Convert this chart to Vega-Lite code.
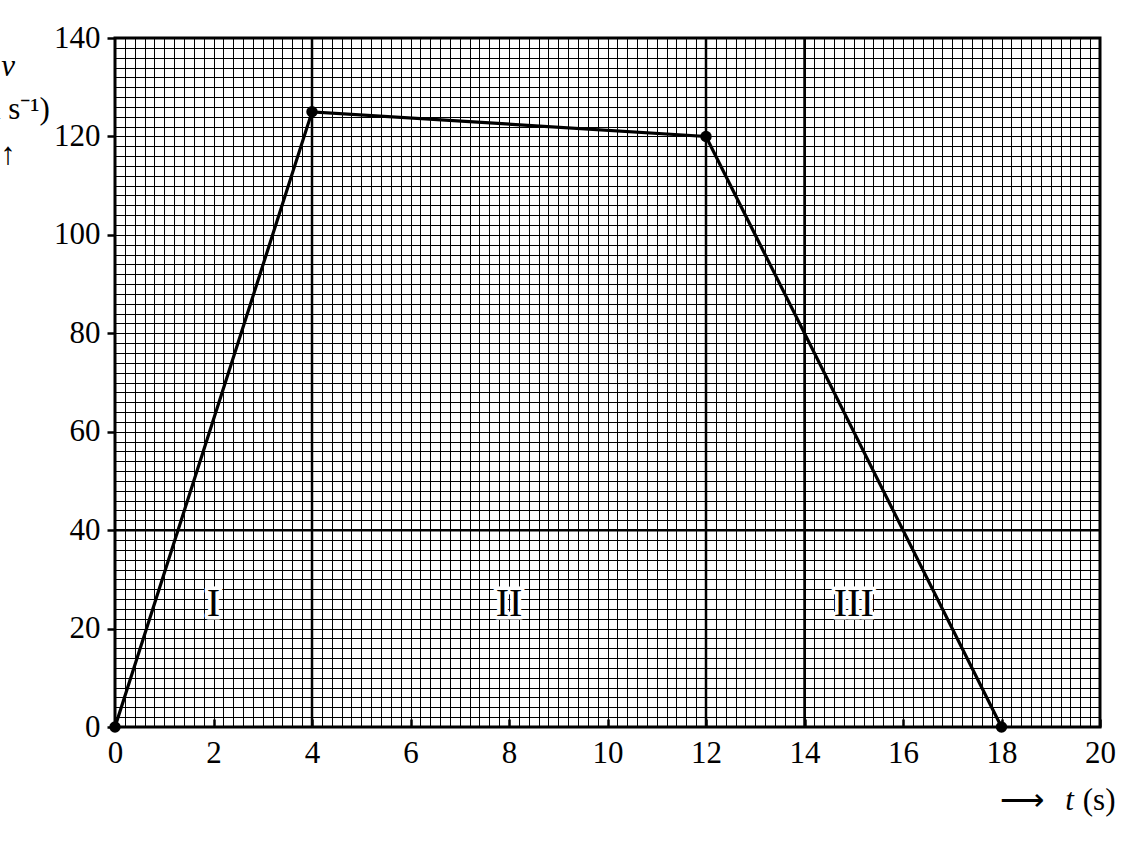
{
  "$schema": "https://vega.github.io/schema/vega-lite/v6.json",
  "width": 985,
  "height": 689,
  "autosize": {"type": "none"},
  "padding": {"left": 115, "top": 38, "right": 41, "bottom": 114},
  "background": "white",
  "config": {
    "view": {"stroke": "black", "strokeWidth": 3},
    "font": "Times New Roman, Liberation Serif, serif"
  },
  "title": {
    "text": "v",
    "subtitle": ["(m s⁻¹)", "↑"],
    "anchor": "start",
    "frame": "group",
    "align": "center",
    "dx": -107,
    "dy": 149,
    "offset": 0,
    "font": "Times New Roman, Liberation Serif, serif",
    "fontStyle": "italic",
    "fontWeight": "normal",
    "fontSize": 31,
    "color": "black",
    "subtitleFont": "Times New Roman, Liberation Serif, serif",
    "subtitleFontSize": 31,
    "subtitleFontStyle": "normal",
    "subtitleColor": "black",
    "subtitlePadding": 12,
    "subtitleLineHeight": 45
  },
  "datasets": {
    "curve": [
      {"t": 0, "v": 0},
      {"t": 4, "v": 125},
      {"t": 12, "v": 120},
      {"t": 18, "v": 0}
    ],
    "heavyX": [{"t": 4}, {"t": 12}, {"t": 14}],
    "heavyY": [{"v": 40}],
    "regions": [
      {"t": 2, "v": 25, "label": "I"},
      {"t": 8, "v": 25, "label": "II"},
      {"t": 15, "v": 25, "label": "III"}
    ]
  },
  "layer": [
    {
      "data": {"name": "heavyX"},
      "mark": {"type": "rule", "color": "black", "strokeWidth": 2.5},
      "encoding": {
        "x": {"field": "t", "type": "quantitative", "scale": {"domain": [0, 20], "nice": false}}
      }
    },
    {
      "data": {"name": "heavyY"},
      "mark": {"type": "rule", "color": "black", "strokeWidth": 2.5},
      "encoding": {
        "y": {"field": "v", "type": "quantitative", "scale": {"domain": [0, 140], "nice": false}}
      }
    },
    {
      "data": {"name": "curve"},
      "mark": {"type": "line", "color": "black", "strokeWidth": 3.2},
      "encoding": {
        "x": {
          "field": "t",
          "type": "quantitative",
          "scale": {"domain": [0, 20], "nice": false},
          "axis": {
            "tickCount": 100,
            "grid": true,
            "gridColor": "black",
            "gridWidth": 1,
            "gridOpacity": 1,
            "domain": false,
            "labelExpr": "abs(datum.value/2 - round(datum.value/2)) < 0.001 ? format(datum.value, '.0f') : ''",
            "tickOpacity": {"condition": {"test": "abs(datum.value/2 - round(datum.value/2)) < 0.001", "value": 1}, "value": 0},
            "tickSize": -8,
            "tickWidth": 2.5,
            "tickColor": "black",
            "labelPadding": 19,
            "labelFont": "Times New Roman, Liberation Serif, serif",
            "labelFontSize": 31,
            "labelColor": "black",
            "labelOverlap": false,
            "labelBound": false,
            "labelFlush": false,
            "title": "t",
            "titleX": 954,
            "titleY": 73,
            "titleAlign": "center",
            "titleBaseline": "middle",
            "titleFont": "Times New Roman, Liberation Serif, serif",
            "titleFontStyle": "italic",
            "titleFontWeight": "normal",
            "titleFontSize": 31,
            "titleColor": "black"
          }
        },
        "y": {
          "field": "v",
          "type": "quantitative",
          "scale": {"domain": [0, 140], "nice": false},
          "axis": {
            "tickCount": 70,
            "grid": true,
            "gridColor": "black",
            "gridWidth": 1,
            "gridOpacity": 1,
            "domain": false,
            "labelExpr": "abs(datum.value/20 - round(datum.value/20)) < 0.001 ? format(datum.value, '.0f') : ''",
            "tickOpacity": {"condition": {"test": "abs(datum.value/20 - round(datum.value/20)) < 0.001", "value": 1}, "value": 0},
            "tickSize": 8,
            "tickWidth": 2.5,
            "tickColor": "black",
            "labelPadding": 7,
            "labelFont": "Times New Roman, Liberation Serif, serif",
            "labelFontSize": 31,
            "labelColor": "black",
            "labelOverlap": false,
            "labelBound": false,
            "labelFlush": false,
            "title": "⟶\u00a0\u00a0\u00a0\u00a0\u00a0(s)",
            "titleAngle": 0,
            "titleX": 1000,
            "titleY": 762,
            "titleAlign": "right",
            "titleBaseline": "middle",
            "titleFont": "Times New Roman, Liberation Serif, serif",
            "titleFontStyle": "normal",
            "titleFontWeight": "normal",
            "titleFontSize": 31,
            "titleColor": "black"
          }
        }
      }
    },
    {
      "data": {"name": "curve"},
      "mark": {"type": "point", "filled": true, "color": "black", "size": 130, "opacity": 1},
      "encoding": {
        "x": {"field": "t", "type": "quantitative"},
        "y": {"field": "v", "type": "quantitative"}
      }
    },
    {
      "data": {"name": "regions"},
      "mark": {"type": "text", "font": "Times New Roman, Liberation Serif, serif", "fontSize": 40, "stroke": "white", "strokeWidth": 7, "fill": "white", "baseline": "middle", "align": "center", "strokeJoin": "round"},
      "encoding": {
        "x": {"field": "t", "type": "quantitative"},
        "y": {"field": "v", "type": "quantitative"},
        "text": {"field": "label"}
      }
    },
    {
      "data": {"name": "regions"},
      "mark": {"type": "text", "font": "Times New Roman, Liberation Serif, serif", "fontSize": 40, "color": "black", "baseline": "middle", "align": "center"},
      "encoding": {
        "x": {"field": "t", "type": "quantitative"},
        "y": {"field": "v", "type": "quantitative"},
        "text": {"field": "label"}
      }
    }
  ]
}
